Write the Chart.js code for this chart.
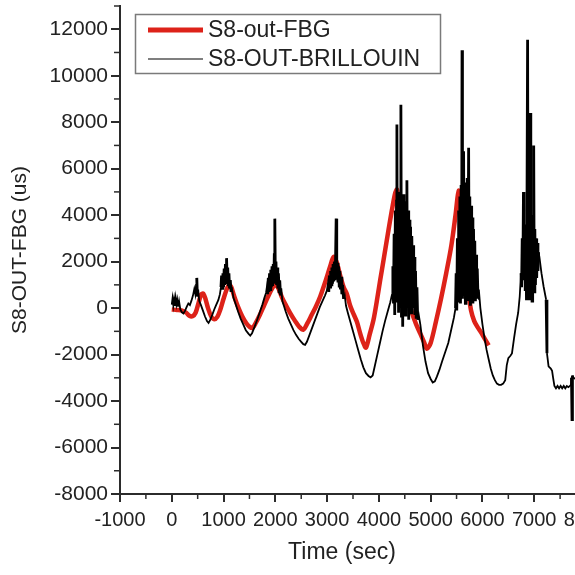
<!DOCTYPE html>
<html>
<head>
<meta charset="utf-8">
<script src="https://cdn.jsdelivr.net/npm/chart.js@4.4.1/dist/chart.umd.min.js"></script>
<style>
  html, body { margin: 0; padding: 0; background: #fff; overflow: hidden; }
  #wrap { width: 620px; height: 575px; }
</style>
</head>
<body>
<div id="wrap"><canvas id="grafica"></canvas></div>
<script>
// FBG series (red, smooth)
const fbgTime = [0, 100, 200, 280, 340, 400, 460, 520, 570, 610, 650, 700, 760, 820, 880, 940, 1000, 1060, 1110, 1150,
  1200, 1280, 1360, 1440, 1510, 1560, 1620, 1700, 1780, 1860, 1940, 2000, 2060, 2130, 2210, 2287, 2380, 2460, 2540, 2620,
  2700, 2780, 2867, 2960, 3060, 3123, 3180, 3253, 3320, 3383, 3446, 3510, 3577, 3640, 3700, 3750, 3820, 3896, 3960, 4025,
  4100, 4186, 4250, 4315, 4350, 4400, 4444, 4490, 4541, 4590, 4638, 4720, 4800, 4870, 4928, 5000, 5100, 5200, 5300, 5400,
  5480, 5540, 5580, 5620, 5660, 5700, 5740, 5780, 5840, 5900, 5960, 6040, 6120];
const fbgStrain = [-60, -80, -110, -200, -330, -350, -200, 250, 600, 620, 400, 0, -350, -480, -380, -50, 400, 800, 1000, 900,
  550, 50, -350, -650, -820, -850, -650, -300, 100, 500, 850, 1000, 850, 450, 100, -215, -550, -800, -930, -650,
  -300, 50, 500, 1100, 1800, 2200, 2000, 1400, 900, 600, 100, -250, -600, -1100, -1500, -1700, -1150, -500, 300, 1200,
  2200, 3370, 4200, 4950, 5100, 4200, 3100, 2000, 950, 300, -200, -700, -1100, -1450, -1750, -1500, -600, 400, 1500, 2700,
  4000, 5050, 4200, 3200, 2200, 1250, 500, -100, -550, -800, -1000, -1300, -1600];

// Brillouin series (black, noisy)
const brillouinTime = [0, 15, 30, 45, 60, 75, 90, 105, 120, 140, 165, 195, 225, 255, 290, 320, 350, 380, 410, 435,
  455, 470, 483, 495, 510, 530, 560, 600, 640, 680, 710, 740, 780, 820, 860, 900, 930, 950, 962, 975,
  988, 1000, 1012, 1024, 1036, 1048, 1058, 1068, 1080, 1092, 1104, 1116, 1130, 1145, 1165, 1190, 1230, 1280, 1330, 1380,
  1430, 1480, 1515, 1550, 1600, 1650, 1700, 1750, 1790, 1820, 1840, 1852, 1864, 1876, 1888, 1900, 1912, 1924, 1936, 1948,
  1960, 1970, 1980, 1990, 2000, 2012, 2024, 2036, 2048, 2060, 2072, 2085, 2100, 2115, 2135, 2165, 2200, 2250, 2300, 2350,
  2400, 2450, 2500, 2540, 2575, 2610, 2660, 2710, 2760, 2810, 2860, 2910, 2960, 2995, 3020, 3032, 3044, 3056, 3068, 3080,
  3092, 3104, 3116, 3128, 3140, 3152, 3164, 3175, 3186, 3198, 3210, 3222, 3234, 3246, 3258, 3270, 3285, 3300, 3318, 3340,
  3365, 3400, 3450, 3500, 3550, 3600, 3650, 3700, 3750, 3800, 3840, 3880, 3920, 3970, 4020, 4070, 4120, 4170, 4220, 4255,
  4270, 4282, 4294, 4306, 4318, 4330, 4340, 4348, 4356, 4368, 4380, 4392, 4404, 4414, 4425, 4436, 4448, 4460, 4472, 4484,
  4496, 4508, 4520, 4530, 4541, 4552, 4564, 4576, 4588, 4600, 4612, 4624, 4636, 4648, 4660, 4672, 4684, 4696, 4708, 4720,
  4735, 4750, 4770, 4800, 4850, 4900, 4950, 5000, 5040, 5080, 5120, 5170, 5220, 5280, 5340, 5400, 5450, 5480, 5492, 5504,
  5516, 5528, 5540, 5552, 5564, 5576, 5588, 5598, 5606, 5614, 5625, 5636, 5646, 5658, 5670, 5682, 5694, 5706, 5718, 5733,
  5744, 5756, 5768, 5780, 5792, 5804, 5816, 5828, 5840, 5852, 5864, 5876, 5888, 5900, 5915, 5930, 5960, 6000, 6040, 6080,
  6120, 6160, 6200, 6240, 6280, 6320, 6360, 6400, 6440, 6470, 6500, 6540, 6570, 6610, 6650, 6690, 6720, 6745, 6756, 6768,
  6780, 6792, 6802, 6814, 6826, 6838, 6850, 6860, 6872, 6882, 6894, 6906, 6918, 6926, 6934, 6946, 6958, 6970, 6980, 6990,
  7000, 7012, 7024, 7036, 7048, 7060, 7072, 7084, 7100, 7140, 7181, 7230, 7246, 7277, 7320, 7345, 7365, 7390, 7420, 7450,
  7480, 7510, 7540, 7570, 7600, 7630, 7660, 7690, 7710, 7720, 7730, 7738, 7760, 7800];
const brillouinStrain = [150, 420, 120, 380, 90, 430, 160, 350, 60, 300, -60, -180, -230, -120, 60, 200, 130, 320, 550, 820,
  600, 1000, 1300, 500, 800, 300, 150, -100, -350, -560, -640, -520, -300, -60, 150, 350, 600, 900, 1400, 850,
  1500, 900, 1700, 1000, 1900, 1100, 2150, 1300, 1750, 1000, 1500, 850, 1200, 700, 800, 450, 200, -150, -450, -700,
  -950, -1100, -1180, -1080, -800, -500, -180, 150, 450, 650, 950, 600, 1300, 700, 1500, 800, 1650, 900, 1800, 950,
  1900, 1050, 2300, 3850, 1300, 2000, 1000, 1750, 850, 1500, 700, 1200, 550, 850, 300, 100, -150, -450, -700, -950,
  -1150, -1320, -1450, -1550, -1580, -1450, -1150, -850, -550, -250, 50, 300, 550, 750, 1100, 700, 1400, 900, 1600, 1000,
  1750, 1050, 1900, 1150, 2000, 1200, 2200, 3850, 1400, 1950, 1100, 1800, 950, 1600, 800, 1350, 600, 1000, 400, 550,
  100, -200, -600, -1000, -1400, -1800, -2200, -2550, -2800, -2920, -2980, -2900, -2500, -2000, -1500, -1000, -550, -150, 250, 600,
  1800, 200, 3200, -300, 4200, 600, 4600, 7900, 300, 4800, -200, 5000, 800, 4700, 8750, -400, 4500, -800, 4900, 400,
  4300, -300, 4600, 700, 5500, 200, 4200, -500, 3800, 300, 3500, -200, 3100, 500, 2700, 0, 2200, -300, 1600, -400,
  900, -500, -300, -700, -1600, -2300, -2800, -3050, -3200, -3150, -2950, -2650, -2300, -1900, -1500, -900, -400, 0, 1500, -100,
  3000, 300, 4200, 500, 4800, 200, 5300, 700, 11100, 400, 5200, 6750, 600, 5400, 200, 5000, 800, 5600, 300, 6900,
  500, 4800, 100, 4400, 600, 3900, 200, 3400, 700, 2900, 300, 2300, 500, 1700, 400, 800, 0, -700, -1300, -1800,
  -2200, -2600, -2900, -3100, -3250, -3300, -3300, -3250, -3100, -2450, -2150, -2050, -1950, -1300, -700, -200, 500, 1500, 900, 3000,
  1200, 5000, 1500, 3200, 800, 3600, 400, 4200, 11550, 700, 4400, 400, 4000, 8400, 600, 3800, 300, 4000, 900, 7000,
  700, 3400, 1000, 3000, 1300, 2800, 1600, 2400, 2200, 1500, 930, 360, -1940, -2510, -2600, -2700, -3000, -3350, -3450, -3350,
  -3450, -3350, -3450, -3350, -3450, -3350, -3400, -3350, -3300, -3000, -4800, -2900, -3000, -3050];

const xTickValues = [-1000, 0, 1000, 2000, 3000, 4000, 5000, 6000, 7000, 8000];
const xMinorValues = [-500, 500, 1500, 2500, 3500, 4500, 5500, 6500, 7500];
const yTickValues = [-8000, -6000, -4000, -2000, 0, 2000, 4000, 6000, 8000, 10000, 12000];
const yMinorValues = [-7000, -5000, -3000, -1000, 1000, 3000, 5000, 7000, 9000, 11000, 13000];

const FONT = "'Liberation Sans', Arial, sans-serif";
const AXIS = "#2b2b2b";
const TEXT = "#222";

const toPoints = (xs, ys) => xs.map((t, i) => ({ x: t, y: ys[i] }));

// minor ticks, x title, legend box
const extras = {
  id: "extras",
  afterDraw(chart) {
    const { ctx, chartArea, scales } = chart;
    const x = scales.x, y = scales.y;
    ctx.save();
    ctx.strokeStyle = AXIS;
    ctx.lineWidth = 1.5;
    xMinorValues.forEach(v => {
      const px = x.getPixelForValue(v);
      ctx.beginPath();
      ctx.moveTo(px, chartArea.bottom);
      ctx.lineTo(px, chartArea.bottom + 5);
      ctx.stroke();
    });
    yMinorValues.forEach(v => {
      const py = y.getPixelForValue(v);
      ctx.beginPath();
      ctx.moveTo(chartArea.left, py);
      ctx.lineTo(chartArea.left - 6, py);
      ctx.stroke();
    });

    ctx.fillStyle = TEXT;
    ctx.font = "23px " + FONT;
    ctx.textAlign = "center";
    ctx.textBaseline = "middle";
    ctx.fillText("Time (sec)", 342, 553);

    // legend
    ctx.fillStyle = "#fff";
    ctx.fillRect(135, 14, 305, 59);
    ctx.strokeStyle = "#7a7a7a";
    ctx.lineWidth = 1.5;
    ctx.strokeRect(135.5, 14.5, 305, 59);
    ctx.font = "23px " + FONT;
    ctx.textAlign = "left";
    chart.data.datasets.forEach((ds, i) => {
      const ly = 30 + i * 29;
      ctx.strokeStyle = ds.borderColor;
      ctx.lineWidth = i === 0 ? 5 : 1.2;
      ctx.beginPath();
      ctx.moveTo(148, ly);
      ctx.lineTo(203, ly);
      ctx.stroke();
      ctx.fillStyle = TEXT;
      ctx.fillText(ds.label, 208, ly + 1);
    });
    ctx.restore();
  }
};

const ctx = document.getElementById("grafica").getContext("2d");

const chart = new Chart(ctx, {
  type: "line",
  data: {
    datasets: [{
      label: "S8-out-FBG",
      data: toPoints(fbgTime, fbgStrain),
      borderColor: "#dd2219",
      borderWidth: 4.5,
      pointRadius: 0,
      tension: 0.3,
      order: 1
    }, {
      label: "S8-OUT-BRILLOUIN",
      data: toPoints(brillouinTime, brillouinStrain),
      borderColor: "#000",
      borderWidth: 1.8,
      pointRadius: 0,
      tension: 0,
      order: 0,
      // noisy stretches drawn heavier so they read as solid bands
      segment: {
        borderWidth: c => Math.abs(c.p1.parsed.y - c.p0.parsed.y) > 400 && (c.p1.parsed.x - c.p0.parsed.x) < 20 ? 2.8 : 1.8
      }
    }]
  },
  options: {
    responsive: true,
    maintainAspectRatio: false,
    animation: false,
    layout: { padding: { top: 6, right: 34, left: 0, bottom: 0 } },
    plugins: {
      legend: { display: false },
      tooltip: { enabled: false }
    },
    scales: {
      x: {
        type: "linear",
        min: -1000,
        max: 8000,
        afterBuildTicks: s => { s.ticks = xTickValues.map(v => ({ value: v })); },
        afterFit: s => { s.height = 81; s.paddingLeft = 0; s.paddingRight = 0; },
        ticks: {
          callback: v => String(v),
          color: TEXT,
          font: { family: FONT, size: 20 },
          padding: 6,
          maxRotation: 0,
          autoSkip: false
        },
        grid: { drawOnChartArea: false, tickLength: 8, color: AXIS, lineWidth: 2 },
        border: { color: AXIS, width: 2 }
      },
      y: {
        min: -8000,
        max: 13000,
        afterBuildTicks: s => { s.ticks = yTickValues.map(v => ({ value: v })); },
        afterFit: s => { s.width = 120; s.paddingTop = 0; s.paddingBottom = 0; },
        ticks: {
          callback: v => String(v),
          color: TEXT,
          font: { family: FONT, size: 21 },
          padding: 3,
          autoSkip: false
        },
        grid: { drawOnChartArea: false, tickLength: 9, color: AXIS, lineWidth: 2 },
        border: { color: AXIS, width: 2 },
        title: {
          display: true,
          text: "S8-OUT-FBG (us)",
          color: TEXT,
          font: { family: FONT, size: 21 },
          padding: { top: 8, bottom: 0 }
        }
      }
    }
  },
  plugins: [extras]
});
</script>
</body>
</html>
